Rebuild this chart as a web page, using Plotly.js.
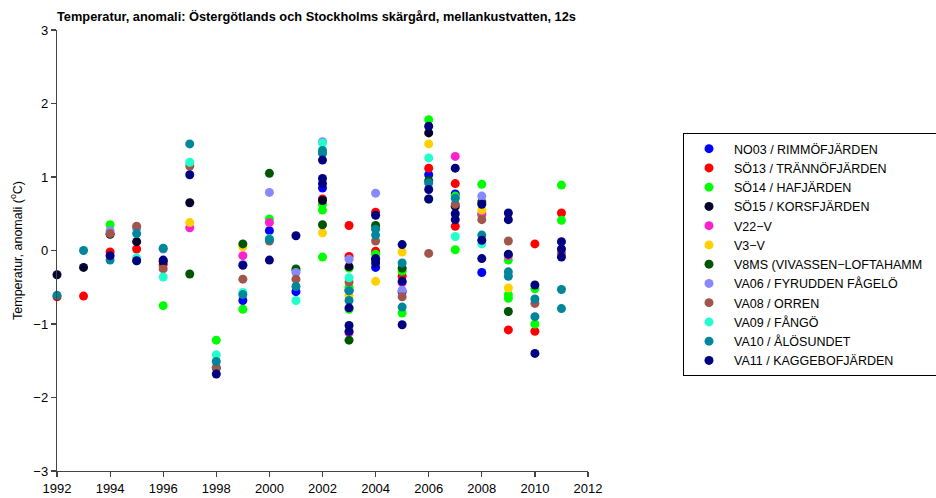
<!DOCTYPE html>
<html>
<head>
<meta charset="utf-8">
<script src="https://cdn.plot.ly/plotly-3.0.1.min.js"></script>
<style>html,body{margin:0;padding:0;background:#fff;}#chart{width:936px;height:498px;}</style>
</head>
<body>
<div id="chart"></div>
<script>
// ---- Data (year, temperature anomaly °C) ----
const stationNames = [
  "NO03 / RIMMÖFJÄRDEN", "SÖ13 / TRÄNNÖFJÄRDEN", "SÖ14 / HAFJÄRDEN", "SÖ15 / KORSFJÄRDEN",
  "V22−V", "V3−V", "V8MS (VIVASSEN−LOFTAHAMM\u00a0\u00a0\u00a0\u00a0", "VA06 / FYRUDDEN FÅGELÖ",
  "VA08 / ORREN", "VA09 / FÅNGÖ", "VA10 / ÅLÖSUNDET", "VA11 / KAGGEBOFJÄRDEN"
];

const NO03_years = [1999, 2000, 2001, 2002, 2003, 2004, 2005, 2006, 2007, 2008];
const NO03_vals  = [-0.68, 0.27, -0.56, 0.85, -0.54, -0.23, -0.56, 1.03, 0.77, -0.30];

const SO13_years = [1992, 1993, 1994, 1995, 1996, 2002, 2003, 2003, 2004, 2004, 2005, 2006, 2007, 2007, 2009, 2010, 2010, 2011];
const SO13_vals  = [-0.63, -0.62, -0.02, 0.02, -0.19, 0.70, 0.34, -0.08, 0.52, -0.01, -0.35, 1.12, 0.91, 0.33, -1.08, 0.09, -1.10, 0.51];

const SO14_years = [1994, 1995, 1996, 1998, 1999, 2000, 2001, 2002, 2002, 2002, 2003, 2003, 2003, 2004, 2004, 2005, 2005, 2006, 2006, 2007, 2007, 2008, 2008, 2009, 2009, 2009, 2010, 2010, 2011, 2011];
const SO14_vals  = [0.35, -0.14, -0.75, -1.22, -0.80, 0.43, -0.27, 0.63, 0.55, -0.09, -0.24, -0.50, -0.80, 0.30, -0.05, -0.28, -0.85, 1.78, 0.70, 0.74, 0.01, 0.90, 0.48, -0.13, -0.60, -0.65, -0.52, -1.00, 0.89, 0.41];

const SO15_years = [1992, 1993, 1994, 1995, 1996, 1997, 2002, 2003, 2004, 2006, 2007];
const SO15_vals  = [-0.33, -0.23, 0.22, 0.12, -0.15, 0.65, 0.68, -0.22, -0.12, 1.60, 0.60];

const V22_years = [1997, 1999, 2000, 2003, 2005, 2007, 2008, 2009];
const V22_vals  = [0.31, -0.07, 0.38, -1.12, -0.44, 1.28, 0.50, -0.07];

const V3_years = [1997, 1999, 2002, 2003, 2004, 2005, 2006, 2008, 2009];
const V3_vals  = [0.38, 0.05, 0.24, -0.61, -0.42, -0.02, 1.45, 0.55, -0.51];

const V8MS_years = [1997, 1998, 1999, 2000, 2001, 2002, 2003, 2004, 2005, 2006, 2008, 2009];
const V8MS_vals  = [-0.32, -1.60, 0.09, 1.05, -0.25, 0.35, -1.22, 0.34, -0.24, 0.95, 0.66, -0.83];

const VA06_years = [1994, 1995, 1996, 1999, 2000, 2001, 2002, 2003, 2004, 2005, 2008];
const VA06_vals  = [0.27, 0.30, 0.02, -0.19, 0.79, -0.30, 1.48, -0.12, 0.78, -0.54, 0.74];

const VA08_years = [1994, 1995, 1996, 1997, 1998, 1999, 2000, 2001, 2003, 2004, 2005, 2006, 2007, 2008, 2009, 2010, 2011];
const VA08_vals  = [0.23, 0.33, -0.25, 1.15, -1.59, -0.39, 0.13, -0.39, -0.43, 0.13, -0.63, -0.04, 0.63, 0.42, 0.13, -0.72, -0.04];

const VA09_years = [1995, 1996, 1997, 1998, 1999, 2000, 2001, 2002, 2003, 2006, 2007, 2008];
const VA09_vals  = [-0.10, -0.36, 1.20, -1.42, -0.57, 0.16, -0.68, 1.46, -0.37, 1.26, 0.19, 0.09];

const VA10_years = [1992, 1993, 1994, 1995, 1996, 1997, 1998, 1999, 2000, 2001, 2002, 2002, 2003, 2003, 2004, 2004, 2005, 2005, 2006, 2007, 2008, 2009, 2009, 2010, 2010, 2011, 2011];
const VA10_vals  = [-0.61, 0.00, -0.13, 0.23, 0.03, 1.45, -1.51, -0.60, 0.15, -0.49, 1.36, 1.32, -0.55, -0.68, 0.29, 0.21, -0.17, -0.77, 0.92, 0.71, 0.21, -0.29, -0.35, -0.66, -0.90, -0.53, -0.79];

const VA11_years = [1994, 1995, 1996, 1997, 1998, 1999, 2000, 2001, 2002, 2002, 2002, 2003, 2003, 2003, 2004, 2004, 2004, 2005, 2005, 2005, 2006, 2006, 2006, 2007, 2007, 2007, 2008, 2008, 2008, 2009, 2009, 2009, 2010, 2010, 2011, 2011, 2011];
const VA11_vals  = [-0.07, -0.14, -0.13, 1.03, -1.68, -0.20, -0.13, 0.20, 1.23, 0.98, 0.91, -0.78, -1.02, -1.10, 0.48, -0.11, -0.17, 0.08, -0.42, -1.01, 1.69, 0.83, 0.70, 1.12, 0.50, 0.42, 0.63, 0.14, -0.11, 0.51, 0.42, -0.05, -0.47, -1.40, 0.12, 0.02, -0.09];

const xTicks = [1992, 1994, 1996, 1998, 2000, 2002, 2004, 2006, 2008, 2010, 2012];
const yTicks = [-3, -2, -1, 0, 1, 2, 3];
const yTickLabels = ["−3", "−2", "−1", "0", "1", "2", "3"];

// ---- Styling ----
const colors = ["#0000ff", "#ff0000", "#00ff00", "#03032e", "#ff22cc", "#ffd000",
                "#005500", "#8888ff", "#a0574a", "#22ffcc", "#00869a", "#000080"];
const seriesX = [NO03_years, SO13_years, SO14_years, SO15_years, V22_years, V3_years,
                 V8MS_years, VA06_years, VA08_years, VA09_years, VA10_years, VA11_years];
const seriesY = [NO03_vals, SO13_vals, SO14_vals, SO15_vals, V22_vals, V3_vals,
                 V8MS_vals, VA06_vals, VA08_vals, VA09_vals, VA10_vals, VA11_vals];

const font = "Liberation Sans, Arial, Helvetica, sans-serif";

const traces = stationNames.map((name, i) => ({
  type: "scatter",
  mode: "markers",
  name: name,
  x: seriesX[i],
  y: seriesY[i],
  cliponaxis: false,
  marker: {color: colors[i], size: 9, line: {width: 0}},
  hoverinfo: "x+y+name"
}));

const layout = {
  width: 936,
  height: 498,
  margin: {l: 57, r: 348, t: 30, b: 27, autoexpand: false},
  paper_bgcolor: "#fff",
  plot_bgcolor: "#fff",
  font: {family: font, size: 13, color: "#000"},
  title: {
    text: "<b>Temperatur, anomali: Östergötlands och Stockholms skärgård, mellankustvatten, 12s</b>",
    font: {family: font, size: 12.8, color: "#000"},
    x: 0, xref: "paper", xanchor: "left",
    y: 1 - 17 / 498, yref: "container", yanchor: "middle"
  },
  xaxis: {
    range: [1992, 2012],
    tickmode: "array", tickvals: xTicks, ticktext: xTicks.map(String),
    showgrid: false, zeroline: false,
    showline: true, linecolor: "#444", linewidth: 1.2,
    ticks: "outside", ticklen: 5, tickcolor: "#444", tickwidth: 1.2,
    tickfont: {family: font, size: 13, color: "#000"},
    fixedrange: true
  },
  yaxis: {
    range: [-3, 3],
    tickmode: "array", tickvals: yTicks, ticktext: yTickLabels,
    showgrid: false, zeroline: false,
    showline: true, linecolor: "#444", linewidth: 1.2,
    ticks: "outside", ticklen: 5, tickcolor: "#444", tickwidth: 1.2,
    tickfont: {family: font, size: 13, color: "#000"},
    title: {text: "Temperatur, anomali (<sup>o</sup>C)", font: {family: font, size: 12.5, color: "#000"}, standoff: 8},
    fixedrange: true
  },
  legend: {
    x: (683 - 57) / 531, xanchor: "left",
    y: (471 - 133) / 441, yanchor: "top",
    bgcolor: "#fff", bordercolor: "#000", borderwidth: 1,
    font: {family: font, size: 12.5, color: "#000"},
    itemwidth: 40,
    tracegroupgap: 0
  },
  showlegend: true
};

Plotly.newPlot("chart", traces, layout, {displayModeBar: false, staticPlot: true});
</script>
</body>
</html>
